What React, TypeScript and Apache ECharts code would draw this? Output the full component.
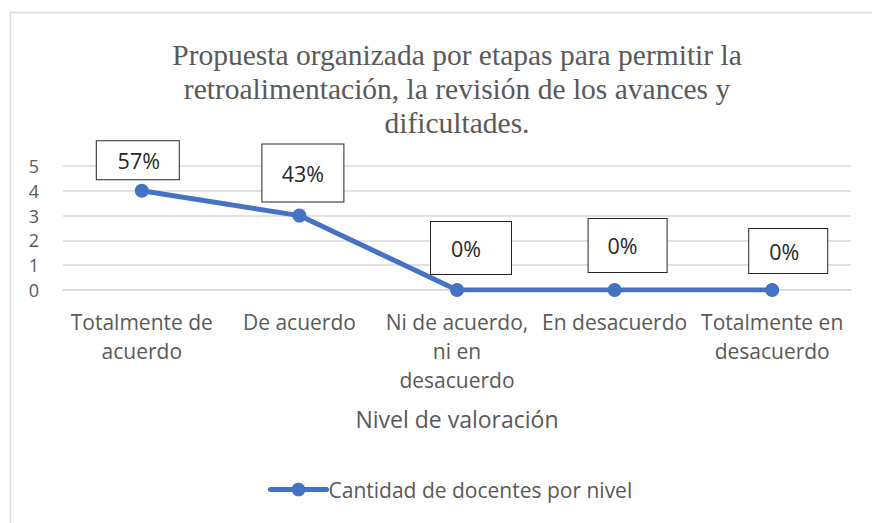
import React, { useEffect, useRef } from "react";
import * as echarts from "echarts";

const titleText =
  "Propuesta organizada por etapas para permitir la\nretroalimentación, la revisión de los avances y\ndificultades.";
const categories = [
  "Totalmente de\nacuerdo",
  "De acuerdo",
  "Ni de acuerdo,\nni en\ndesacuerdo",
  "En desacuerdo",
  "Totalmente en\ndesacuerdo",
];
const values = [4, 3, 0, 0, 0];
const percentLabels = ["57%", "43%", "0%", "0%", "0%"];
const seriesName = "Cantidad de docentes por nivel";
const axisName = "Nivel de valoración";
const yTicks = [0, 1, 2, 3, 4, 5];

// label box styling: [offsetX, offsetY, boxW, boxH, textShiftX, textShiftY]
const labelBoxes = [
  [-4, -30.5, 82, 38, 1, 1],
  [3.5, -42.5, 81, 57, 0, 0],
  [14, -42, 80, 52, -5, 1],
  [13, -44.5, 78, 53, -5, 0],
  [16, -39, 78, 44, -4, 4],
];

const FONT = "'Open Sans', 'Noto Sans', sans-serif";
const GRAY = "#595959";

export default function App() {
  const ref = useRef<HTMLDivElement>(null);
  useEffect(() => {
    if (!ref.current) return;
    const chart = echarts.init(ref.current, undefined, { renderer: "svg" });
    const data = values.map((v, i) => {
      const [ox, oy, w, h, sx, sy] = labelBoxes[i];
      const padL = sx > 0 ? 2 * sx : 0;
      const padR = sx < 0 ? -2 * sx : 0;
      const padT = sy > 0 ? 2 * sy : 0;
      const padB = sy < 0 ? -2 * sy : 0;
      return {
        value: v,
        label: {
          show: true,
          position: "inside",
          offset: [ox, oy],
          formatter: percentLabels[i],
          width: w - padL - padR,
          lineHeight: h - padT - padB,
          padding: [padT, padR, padB, padL],
          align: "center",
          verticalAlign: "middle",
          backgroundColor: "#ffffff",
          borderColor: "#262626",
          borderWidth: 1,
          color: "#262626",
          fontSize: 21.5,
          fontFamily: FONT,
        },
      };
    });
    chart.setOption({
      animation: false,
      backgroundColor: "#ffffff",
      title: {
        text: titleText,
        left: 452,
        textAlign: "center",
        top: 33,
        textStyle: {
          fontFamily: "'Liberation Serif', 'Times New Roman', serif",
          fontSize: 29.5,
          fontWeight: "normal",
          lineHeight: 34,
          color: GRAY,
        },
      },
      graphic: [
        {
          type: "rect",
          shape: { x: 10.5, y: 12.5, width: 900, height: 600 },
          style: { fill: "none", stroke: "#d9d9d9", lineWidth: 1.5 },
          silent: true,
        },
      ],
      legend: {
        data: [seriesName],
        left: 263,
        top: 474,
        itemWidth: 56,
        itemHeight: 17,
        itemGap: 5,
        lineStyle: { width: 5, cap: "round" },
        textStyle: { fontFamily: FONT, fontSize: 21, color: GRAY, padding: [0, 0, 0, -3] },
      },
      grid: { left: 63, right: 21, top: 166, bottom: 233, containLabel: false },
      xAxis: {
        type: "category",
        data: categories,
        boundaryGap: true,
        name: axisName,
        nameLocation: "middle",
        nameGap: 117,
        nameTextStyle: { fontFamily: FONT, fontSize: 23, color: GRAY },
        axisLine: { show: true, lineStyle: { color: "#d9d9d9", width: 1.5 } },
        axisTick: { show: false },
        axisLabel: {
          interval: 0,
          margin: 17,
          fontFamily: FONT,
          fontSize: 21,
          lineHeight: 29,
          color: GRAY,
        },
      },
      yAxis: {
        type: "value",
        min: yTicks[0],
        max: yTicks[yTicks.length - 1],
        interval: 1,
        axisLine: { show: false },
        axisTick: { show: false },
        axisLabel: { margin: 24, fontFamily: FONT, fontSize: 18, lineHeight: 22, color: GRAY },
        splitLine: { lineStyle: { color: "#d9d9d9", width: 1.5 } },
      },
      series: [
        {
          name: seriesName,
          type: "line",
          data,
          symbol: "circle",
          symbolSize: 14,
          color: "#4472C4",
          lineStyle: { color: "#4472C4", width: 5, join: "round" },
          itemStyle: { color: "#4472C4" },
        },
      ],
    });
    return () => chart.dispose();
  }, []);
  return (
    <div
      ref={ref}
      style={{ position: "fixed", left: 0, top: 0, width: 872, height: 523 }}
    />
  );
}
